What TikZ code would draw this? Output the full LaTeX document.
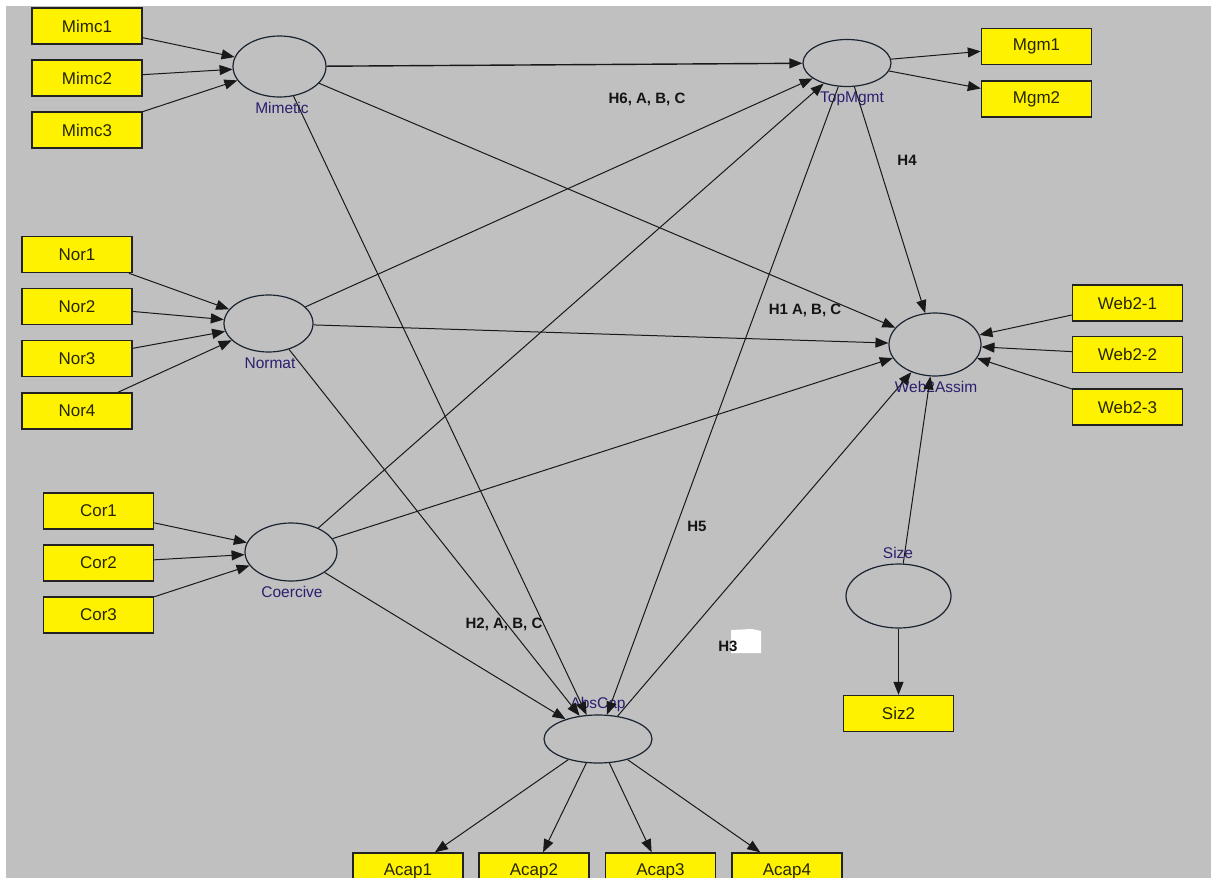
\documentclass[tikz,border=0pt]{standalone}
\usepackage{fontspec}
\setmainfont{Liberation Sans}
\usetikzlibrary{arrows.meta,shapes.geometric}
\definecolor{bg}{HTML}{C0C0C0}
\definecolor{boxline}{HTML}{222222}
\definecolor{boxtext}{HTML}{262600}
\definecolor{ellline}{HTML}{1A2430}
\definecolor{labtext}{HTML}{2C1E6E}
\begin{document}
\begin{tikzpicture}[x=1pt,y=-1pt,
  ind/.style={draw=boxline, line width=1.4pt, fill=yellow, minimum width=110pt, minimum height=36pt, inner sep=0pt, font=\fontsize{17}{20}\selectfont, text=boxtext},
  lat/.style={ellipse, draw=ellline, line width=1.2pt, inner sep=0pt},
  latlab/.style={font=\fontsize{15.5}{18}\selectfont, text=labtext, inner sep=0pt},
  hyp/.style={font=\bfseries\fontsize{15}{18}\selectfont, text=black!92, inner sep=0pt},
  arr/.style={-{Triangle[length=13pt,width=10pt]}, line width=1pt, draw=black!90}]
\useasboundingbox (0,0) rectangle (1211,878);
\clip (0,0) rectangle (1211,878);
\fill[white] (0,0) rectangle (1211,878);
\fill[bg] (6,6) rectangle (1211,878);

% latent variables
\node[lat, minimum width=93pt, minimum height=61pt] (mim) at (279.5,66.5) {};
\node[lat, minimum width=88pt, minimum height=47pt] (top) at (847,63) {};
\node[lat, minimum width=89pt, minimum height=57pt] (nor) at (268.5,323.5) {};
\node[lat, minimum width=92pt, minimum height=63pt] (web) at (935,344.5) {};
\node[lat, minimum width=92pt, minimum height=58pt] (coe) at (291,552) {};
\node[lat, minimum width=108pt, minimum height=48pt] (abs) at (598,739) {};
\node[lat, minimum width=105pt, minimum height=64pt] (siz) at (898.5,596) {};

% latent labels
\node[latlab] (lmim) at (282,108) {Mimetic};
\node[latlab] (ltop) at (852,99) {TopMgmt};
\node[latlab] (lnor) at (270,363) {Normat};
\node[latlab] (lweb) at (936,387) {Web2Assim};
\node[latlab] (lcoe) at (292,592) {Coercive};
\node[latlab] (labs) at (598,704) {AbsCap};
\node[latlab] (lsiz) at (898,553) {Size};

% indicators
\node[ind] (m1) at (87,26) {Mimc1};
\node[ind] (m2) at (87,78) {Mimc2};
\node[ind] (m3) at (87,130) {Mimc3};
\node[ind] (g1) at (1036.5,46.5) {Mgm1};
\node[ind] (g2) at (1036.5,99) {Mgm2};
\node[ind] (n1) at (77,254.5) {Nor1};
\node[ind] (n2) at (77,306.5) {Nor2};
\node[ind] (n3) at (77,358.5) {Nor3};
\node[ind] (n4) at (77,411) {Nor4};
\node[ind] (w1) at (1127.5,303) {Web2-1};
\node[ind] (w2) at (1127.5,354.5) {Web2-2};
\node[ind] (w3) at (1127.5,407) {Web2-3};
\node[ind] (c1) at (98.5,511) {Cor1};
\node[ind] (c2) at (98.5,563) {Cor2};
\node[ind] (c3) at (98.5,615) {Cor3};
\node[ind] (s2) at (898.5,713.5) {Siz2};
\node[ind] (a1) at (408,871) {Acap1};
\node[ind] (a2) at (534,871) {Acap2};
\node[ind] (a3) at (660.5,871) {Acap3};
\node[ind] (a4) at (787,871) {Acap4};

% hypothesis labels
\fill[white] (731,630) -- (752,629) -- (761,631) -- (761,653) -- (731,653) -- cycle;
\node[hyp] (h6) at (647,99) {H6, A, B, C};
\node[hyp] (h4) at (907,160) {H4};
\node[hyp] (h1) at (805,310) {H1 A, B, C};
\node[hyp] (h5) at (697,526) {H5};
\node[hyp] (h2) at (504,624) {H2, A, B, C};
\node[hyp] (h3) at (728,646) {H3};

% measurement arrows
\foreach \s in {m1,m2,m3} \draw[arr] (\s) -- (mim);
\foreach \s in {n1,n2,n3,n4} \draw[arr] (\s) -- (nor);
\foreach \s in {c1,c2,c3} \draw[arr] (\s) -- (coe);
\foreach \s in {w1,w2,w3} \draw[arr] (\s) -- (web);
\foreach \t in {g1,g2} \draw[arr] (top) -- (\t);
\foreach \t in {a1,a2,a3,a4} \draw[arr] (abs) -- (\t);
\draw[arr] (siz) -- (s2);

% structural arrows
\draw[arr, line width=1.4pt] (mim) -- (top);
\draw[arr] (mim) -- (web);
\draw[arr] (mim) -- (abs);
\draw[arr] (nor) -- (top);
\draw[arr] (nor) -- (web);
\draw[arr] (nor) -- (abs);
\draw[arr] (coe) -- (top);
\draw[arr] (coe) -- (web);
\draw[arr] (coe) -- (abs);
\draw[arr] (top) -- (web);
\draw[arr] (top) -- (abs);
\draw[arr] (abs) -- (web);
\draw[arr] (siz) -- (web);
\end{tikzpicture}
\end{document}
